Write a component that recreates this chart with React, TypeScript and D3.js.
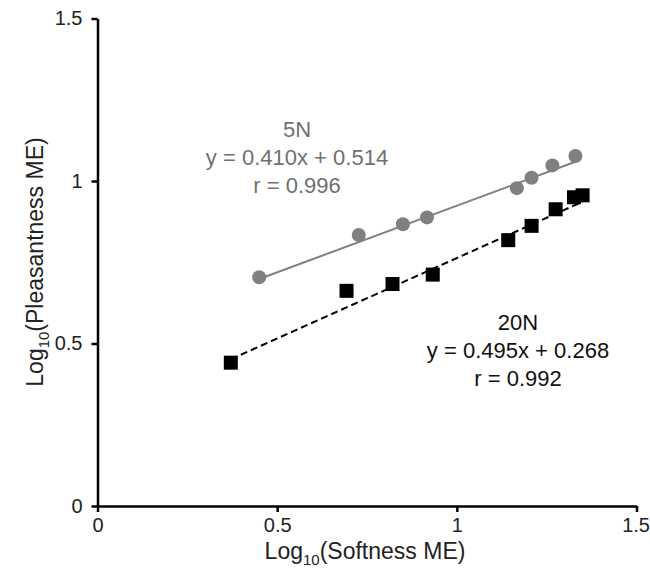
import React, { useEffect, useRef } from 'react';
import * as d3 from 'd3';

// 5N (grey circles)
const x5N = [0.45, 0.727, 0.85, 0.917, 1.167, 1.208, 1.266, 1.33];
const y5N = [0.704, 0.834, 0.867, 0.888, 0.978, 1.01, 1.048, 1.077];
// 20N (black squares)
const x20N = [0.371, 0.693, 0.821, 0.933, 1.143, 1.208, 1.275, 1.326, 1.35];
const y20N = [0.441, 0.662, 0.683, 0.712, 0.818, 0.862, 0.913, 0.95, 0.956];

const fit5N = { slope: 0.41, intercept: 0.514 };
const fit20N = { slope: 0.495, intercept: 0.268 };

const xTicks = [0, 0.5, 1, 1.5];
const yTicks = [0, 0.5, 1, 1.5];

const label5N = ['5N', 'y = 0.410x + 0.514', 'r = 0.996'];
const label20N = ['20N', 'y = 0.495x + 0.268', 'r = 0.992'];

const App = () => {
  const svgRef = useRef<SVGSVGElement>(null);
  const width = 650;
  const height = 581;

  useEffect(() => {
    const svg = d3.select(svgRef.current);
    svg.selectAll('*').remove();

    const x = d3.scaleLinear().domain([0, 1.5]).range([97.5, 636.5]);
    const y = d3.scaleLinear().domain([0, 1.5]).range([506, 18.5]);
    const font = 'Arial, "Liberation Sans", sans-serif';
    const grey = '#808080';

    // axes
    const xAxis = svg.append('g')
      .attr('transform', `translate(0,${y(0)})`)
      .call(d3.axisBottom(x).tickValues(xTicks).tickFormat(d => String(d)).tickSizeOuter(0).tickSizeInner(6).tickPadding(6));
    const yAxis = svg.append('g')
      .attr('transform', `translate(${x(0)},0)`)
      .call(d3.axisLeft(y).tickValues(yTicks).tickFormat(d => String(d)).tickSizeOuter(0).tickSizeInner(6).tickPadding(9));
    [xAxis, yAxis].forEach(a => {
      a.select('.domain').attr('stroke', '#000').attr('stroke-width', 2.5);
      a.selectAll('.tick line').attr('stroke', '#000').attr('stroke-width', 2.5);
      a.selectAll('.tick text').attr('font-family', font).attr('font-size', 20).attr('fill', '#222');
    });
    // last x label sits at the right edge, keep it inside the frame
    xAxis.selectAll('.tick text').filter(d => d === 1.5).attr('text-anchor', 'end').attr('dx', 13);

    // axis titles
    const xt = svg.append('text')
      .attr('x', 365).attr('y', 559)
      .attr('text-anchor', 'middle')
      .attr('font-family', font).attr('font-size', 23).attr('fill', '#222');
    xt.append('tspan').text('Log');
    xt.append('tspan').text('10').attr('font-size', 15).attr('dy', 6);
    xt.append('tspan').text('(Softness ME)').attr('dy', -6);

    const yt = svg.append('text')
      .attr('transform', `translate(43,262) rotate(-90)`)
      .attr('text-anchor', 'middle')
      .attr('font-family', font).attr('font-size', 23).attr('fill', '#222');
    yt.append('tspan').text('Log');
    yt.append('tspan').text('10').attr('font-size', 15).attr('dy', 6);
    yt.append('tspan').text('(Pleasantness ME)').attr('dy', -6);

    // trend lines
    const e5 = d3.extent(x5N) as [number, number];
    svg.append('line')
      .attr('x1', x(e5[0])).attr('y1', y(fit5N.slope * e5[0] + fit5N.intercept))
      .attr('x2', x(e5[1])).attr('y2', y(fit5N.slope * e5[1] + fit5N.intercept))
      .attr('stroke', grey).attr('stroke-width', 2);
    const e20 = d3.extent(x20N) as [number, number];
    svg.append('line')
      .attr('x1', x(e20[0])).attr('y1', y(fit20N.slope * e20[0] + fit20N.intercept))
      .attr('x2', x(e20[1])).attr('y2', y(fit20N.slope * e20[1] + fit20N.intercept))
      .attr('stroke', '#000').attr('stroke-width', 2).attr('stroke-dasharray', '7,4');

    // points
    svg.append('g').selectAll('circle')
      .data(x5N.map((v, i) => [v, y5N[i]]))
      .enter().append('circle')
      .attr('cx', d => x(d[0])).attr('cy', d => y(d[1]))
      .attr('r', 7).attr('fill', grey);

    const s = 14;
    svg.append('g').selectAll('rect')
      .data(x20N.map((v, i) => [v, y20N[i]]))
      .enter().append('rect')
      .attr('x', d => x(d[0]) - s / 2).attr('y', d => y(d[1]) - s / 2)
      .attr('width', s).attr('height', s).attr('fill', '#000');

    // equation labels
    svg.append('g').selectAll('text')
      .data(label5N).enter().append('text')
      .attr('x', 297).attr('y', (d, i) => 137 + i * 28)
      .attr('text-anchor', 'middle')
      .attr('font-family', font).attr('font-size', 22).attr('fill', '#707070')
      .text(d => d);
    svg.append('g').selectAll('text')
      .data(label20N).enter().append('text')
      .attr('x', 518).attr('y', (d, i) => 330 + i * 28)
      .attr('text-anchor', 'middle')
      .attr('font-family', font).attr('font-size', 22).attr('fill', '#111')
      .text(d => d);
  }, []);

  return (
    <svg ref={svgRef} width={width} height={height}
      style={{ position: 'absolute', left: 0, top: 0, background: '#fff' }} />
  );
};

export default App;
